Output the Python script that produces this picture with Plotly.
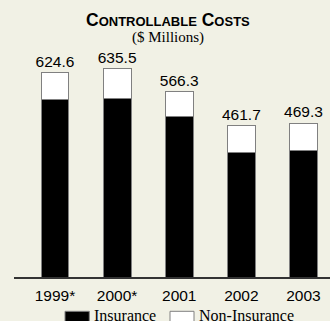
import plotly.graph_objects as go

years = ["1999*", "2000*", "2001", "2002", "2003"]
insurance = [541, 546, 490, 381, 386]
totals = [624.6, 635.5, 566.3, 461.7, 469.3]
non_insurance = [round(t - i, 1) for t, i in zip(totals, insurance)]
legend_names = ["Insurance", "Non-Insurance"]

BG = "#f1f1e5"
W, H = 330, 321
ML, MR, MT, MB = 14, 0, 40, 44
PH = H - MT - MB
PW = W - ML - MR


def px_x(p):
    return (p - ML) / PW


def px_y(p):
    return (H - MB - p) / PH


fig = go.Figure()
fig.add_trace(go.Bar(
    x=years, y=insurance, name=legend_names[0],
    marker=dict(color="black", line=dict(color="#808080", width=1)),
    width=0.45, showlegend=False,
))
fig.add_trace(go.Bar(
    x=years, y=non_insurance, name=legend_names[1],
    marker=dict(color="white", line=dict(color="#808080", width=1)),
    width=0.45, showlegend=False,
    text=[f"{t:.1f}" for t in totals], textposition="outside",
    textfont=dict(family="Liberation Sans, Arial", size=15.5, color="black"),
    constraintext="none", cliponaxis=False,
))

fig.update_layout(
    width=W, height=H, barmode="stack",
    margin=dict(l=ML, r=MR, t=MT, b=MB, pad=0),
    paper_bgcolor=BG, plot_bgcolor=BG,
    xaxis=dict(
        range=[-0.66, 4.427], showline=True, linecolor="#333333", linewidth=1.5,
        showgrid=False, zeroline=False, ticks="outside", ticklen=4, tickcolor=BG,
        tickfont=dict(family="Liberation Sans, Arial", size=15.5, color="black"),
    ),
    yaxis=dict(range=[0, 724], visible=False),
    font=dict(family="Liberation Sans, Arial", color="black"),
)

title_html = ("<b>C<span style='font-size:13px'>ONTROLLABLE</span> "
              "C<span style='font-size:13px'>OSTS</span></b>")
fig.add_annotation(text=title_html, xref="paper", yref="paper",
                   x=px_x(167.5), y=px_y(19.5), xanchor="center", yanchor="middle",
                   showarrow=False,
                   font=dict(family="Liberation Sans, Arial", size=17.5, color="black"))
fig.add_annotation(text="($ Millions)", xref="paper", yref="paper",
                   x=px_x(167.5), y=px_y(37.8), xanchor="center", yanchor="middle",
                   showarrow=False,
                   font=dict(family="Liberation Serif, Times New Roman", size=15, color="black"))

# legend
leg_items = [
    (legend_names[0], "black", 65, 89.3, 93.3),
    (legend_names[1], "white", 170, 194, 198.3),
]
for name, col, x0, x1, tx in leg_items:
    fig.add_shape(type="rect", xref="paper", yref="paper",
                  x0=px_x(x0), x1=px_x(x1), y0=px_y(311.3), y1=px_y(324),
                  fillcolor=col, line=dict(color="#808080", width=1))
    fig.add_annotation(text=name, xref="paper", yref="paper",
                       x=px_x(tx - 1), y=px_y(315.5), xanchor="left", yanchor="middle",
                       showarrow=False,
                       font=dict(family="Liberation Serif, Times New Roman", size=16, color="black"))

fig.write_html("out.html")
